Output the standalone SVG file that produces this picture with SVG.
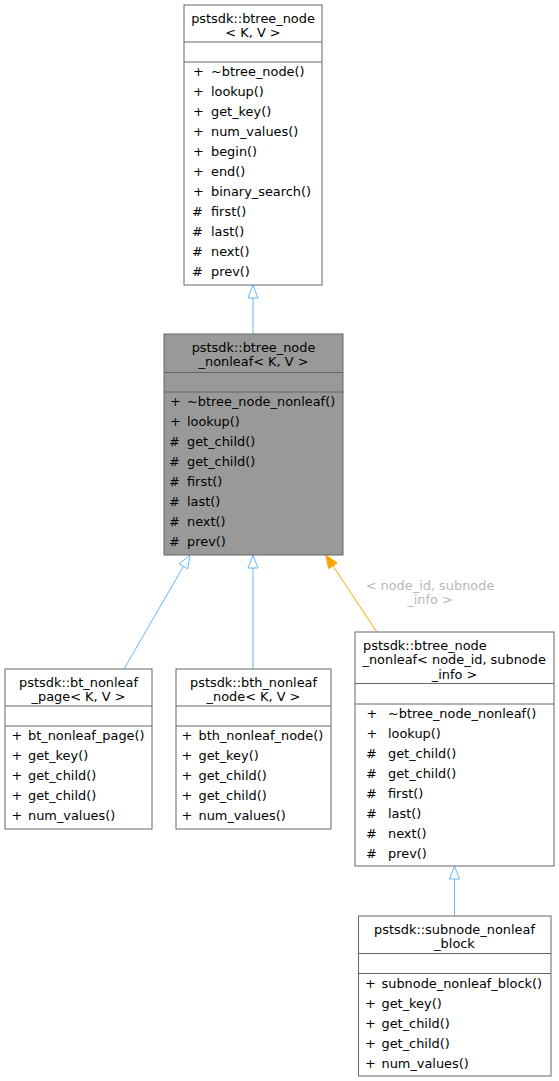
<svg xmlns="http://www.w3.org/2000/svg" width="559" height="1081" viewBox="0 0 559 1081">
<style>
text{font-family:"DejaVu Sans","Noto Sans",sans-serif;font-size:12.9px;fill:#000}
.c{text-anchor:middle}
.box{fill:#fff;stroke:#666;stroke-width:1}
.focus{fill:#999;stroke:#666;stroke-width:1}
.sep{stroke:#666;stroke-width:1}
.inh{stroke:#63b8ff;stroke-width:1;fill:none}
.tmpl{stroke:#ffa500;stroke-width:1;fill:none}
.lbl{fill:#b8b8b8}
</style>
<rect width="559" height="1081" fill="#fff"/>
<g id="connectors">
<path class="inh" d="M253,334V298"/>
<polygon points="253,285 258,298 248,298" fill="#fff" stroke="#63b8ff"/>
<path class="inh" d="M124,669L183.5,566.3"/>
<polygon points="190,555 187.8,568.8 179.2,563.8" fill="#fff" stroke="#63b8ff"/>
<path class="inh" d="M253,669V568"/>
<polygon points="253,555 258,568 248,568" fill="#fff" stroke="#63b8ff"/>
<path class="tmpl" d="M376.7,631.7L332.9,565.8"/>
<polygon points="325.7,555 337.1,563 328.7,568.6" fill="#ffa500" stroke="#ffa500"/>
<text class="c lbl" x="430" y="589.5">&lt; node_id, subnode</text>
<text class="c lbl" x="430" y="604">_info &gt;</text>
<path class="inh" d="M454.5,916V879"/>
<polygon points="454.5,866 459.5,879 449.5,879" fill="#fff" stroke="#63b8ff"/>
</g>
<g id="btree_node">
<rect class="box" x="184" y="5" width="138" height="280"/>
<line class="sep" x1="184" y1="42" x2="322" y2="42"/>
<line class="sep" x1="184" y1="62" x2="322" y2="62"/>
<text class="c" x="253" y="22.5">pstsdk::btree_node</text>
<text class="c" x="253" y="36.5">&lt; K, V &gt;</text>
<text x="193" y="75.5">+</text><text x="211" y="75.5">~btree_node()</text>
<text x="193" y="95.5">+</text><text x="211" y="95.5">lookup()</text>
<text x="193" y="115.5">+</text><text x="211" y="115.5">get_key()</text>
<text x="193" y="135.5">+</text><text x="211" y="135.5">num_values()</text>
<text x="193" y="155.5">+</text><text x="211" y="155.5">begin()</text>
<text x="193" y="175.5">+</text><text x="211" y="175.5">end()</text>
<text x="193" y="195.5">+</text><text x="211" y="195.5">binary_search()</text>
<text x="192" y="215.5">#</text><text x="211" y="215.5">first()</text>
<text x="192" y="235.5">#</text><text x="211" y="235.5">last()</text>
<text x="192" y="255.5">#</text><text x="211" y="255.5">next()</text>
<text x="192" y="275.5">#</text><text x="211" y="275.5">prev()</text>
</g>
<g id="btree_node_nonleaf">
<rect class="focus" x="164" y="334" width="179" height="221"/>
<line class="sep" x1="164" y1="372.5" x2="343" y2="372.5"/>
<line class="sep" x1="164" y1="392" x2="343" y2="392"/>
<text class="c" x="253.5" y="351.5">pstsdk::btree_node</text>
<text class="c" x="253.5" y="366">_nonleaf&lt; K, V &gt;</text>
<text x="170" y="406">+</text><text x="187" y="406">~btree_node_nonleaf()</text>
<text x="170" y="426">+</text><text x="187" y="426">lookup()</text>
<text x="169" y="446">#</text><text x="187" y="446">get_child()</text>
<text x="169" y="466">#</text><text x="187" y="466">get_child()</text>
<text x="169" y="486">#</text><text x="187" y="486">first()</text>
<text x="169" y="506">#</text><text x="187" y="506">last()</text>
<text x="169" y="526">#</text><text x="187" y="526">next()</text>
<text x="169" y="546">#</text><text x="187" y="546">prev()</text>
</g>
<g id="bt_nonleaf_page">
<rect class="box" x="5" y="669" width="147" height="160"/>
<line class="sep" x1="5" y1="706" x2="152" y2="706"/>
<line class="sep" x1="5" y1="726" x2="152" y2="726"/>
<text class="c" x="78.5" y="686.5">pstsdk::bt_nonleaf</text>
<text class="c" x="78.5" y="700.5">_page&lt; K, V &gt;</text>
<text x="11.5" y="740">+</text><text x="28" y="740">bt_nonleaf_page()</text>
<text x="11.5" y="760">+</text><text x="28" y="760">get_key()</text>
<text x="11.5" y="780">+</text><text x="28" y="780">get_child()</text>
<text x="11.5" y="800">+</text><text x="28" y="800">get_child()</text>
<text x="11.5" y="820">+</text><text x="28" y="820">num_values()</text>
</g>
<g id="bth_nonleaf_node">
<rect class="box" x="176" y="669" width="155" height="160"/>
<line class="sep" x1="176" y1="706" x2="331" y2="706"/>
<line class="sep" x1="176" y1="726" x2="331" y2="726"/>
<text class="c" x="253.5" y="686.5">pstsdk::bth_nonleaf</text>
<text class="c" x="253.5" y="700.5">_node&lt; K, V &gt;</text>
<text x="181.5" y="740">+</text><text x="198.5" y="740">bth_nonleaf_node()</text>
<text x="181.5" y="760">+</text><text x="198.5" y="760">get_key()</text>
<text x="181.5" y="780">+</text><text x="198.5" y="780">get_child()</text>
<text x="181.5" y="800">+</text><text x="198.5" y="800">get_child()</text>
<text x="181.5" y="820">+</text><text x="198.5" y="820">num_values()</text>
</g>
<g id="btree_node_nonleaf_subnode">
<rect class="box" x="355" y="632" width="199" height="234"/>
<line class="sep" x1="355" y1="683.5" x2="554" y2="683.5"/>
<line class="sep" x1="355" y1="704" x2="554" y2="704"/>
<text x="363" y="649.5">pstsdk::btree_node</text>
<text x="362.5" y="664">_nonleaf&lt; node_id, subnode</text>
<text class="c" x="454.5" y="678.5">_info &gt;</text>
<text x="366.5" y="718">+</text><text x="388" y="718">~btree_node_nonleaf()</text>
<text x="366.5" y="738">+</text><text x="388" y="738">lookup()</text>
<text x="366" y="758">#</text><text x="388" y="758">get_child()</text>
<text x="366" y="778">#</text><text x="388" y="778">get_child()</text>
<text x="366" y="798">#</text><text x="388" y="798">first()</text>
<text x="366" y="818">#</text><text x="388" y="818">last()</text>
<text x="366" y="838">#</text><text x="388" y="838">next()</text>
<text x="366" y="858">#</text><text x="388" y="858">prev()</text>
</g>
<g id="subnode_nonleaf_block">
<rect class="box" x="358.5" y="916" width="192.5" height="160"/>
<line class="sep" x1="358.5" y1="953.5" x2="551" y2="953.5"/>
<line class="sep" x1="358.5" y1="973.5" x2="551" y2="973.5"/>
<text class="c" x="454.5" y="933.5">pstsdk::subnode_nonleaf</text>
<text class="c" x="454.5" y="947.5">_block</text>
<text x="365" y="987.5">+</text><text x="381.5" y="987.5">subnode_nonleaf_block()</text>
<text x="365" y="1007.5">+</text><text x="381.5" y="1007.5">get_key()</text>
<text x="365" y="1027.5">+</text><text x="381.5" y="1027.5">get_child()</text>
<text x="365" y="1047.5">+</text><text x="381.5" y="1047.5">get_child()</text>
<text x="365" y="1067.5">+</text><text x="381.5" y="1067.5">num_values()</text>
</g>
</svg>
